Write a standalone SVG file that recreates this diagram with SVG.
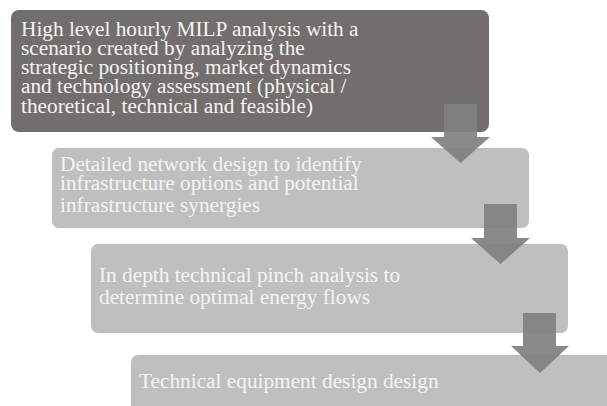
<svg xmlns="http://www.w3.org/2000/svg" width="607" height="406" viewBox="0 0 607 406">
<style>
.box-dark{fill:#726e6d;}
.box-light{fill:#bfbfbf;}
.t{font-family:"Liberation Serif","Times New Roman",serif;font-size:21.3px;fill:#f4f4f4;}
.arrow{fill:#808080;fill-opacity:0.92;}
</style>
<rect width="607" height="406" fill="#ffffff"/>
<g id="node1">
<rect class="box-dark" x="11" y="10" width="478" height="122" rx="8" ry="8"/>
<text class="t"><tspan x="21" y="36">High level hourly MILP analysis with a</tspan><tspan x="21" y="54.5">scenario created by analyzing the</tspan><tspan x="21" y="73.5">strategic positioning, market dynamics</tspan><tspan x="21" y="92.5">and technology assessment (physical /</tspan><tspan x="21" y="113">theoretical, technical and feasible)</tspan></text>
</g>
<g id="node2">
<rect class="box-light" x="52" y="148" width="477" height="80" rx="7" ry="7"/>
<text class="t"><tspan x="60" y="171">Detailed network design to identify</tspan><tspan x="60" y="189.5">infrastructure options and potential</tspan><tspan x="60" y="212">infrastructure synergies</tspan></text>
</g>
<g id="node3">
<rect class="box-light" x="91" y="244" width="477" height="89" rx="7" ry="7"/>
<text class="t"><tspan x="99" y="282">In depth technical pinch analysis to</tspan><tspan x="99" y="304">determine optimal energy flows</tspan></text>
</g>
<g id="node4">
<rect class="box-light" x="131" y="355" width="490" height="70" rx="7" ry="7"/>
<text class="t" x="139" y="388">Technical equipment design design</text>
</g>
<g id="connectors">
<polygon class="arrow" points="444,104 477,104 477,137 490,137 460.5,163 431,137 444,137"/>
<polygon class="arrow" points="484,204 517,204 517,238 530,238 500.5,264 471,238 484,238"/>
<polygon class="arrow" points="523,313 556,313 556,346 569,346 540,373 511,346 523,346"/>
</g>
</svg>
